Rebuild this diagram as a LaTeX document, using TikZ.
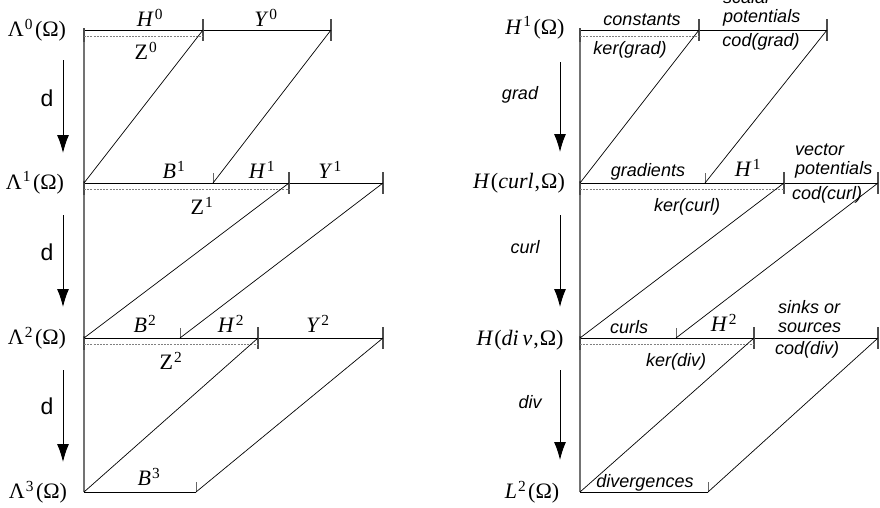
\documentclass[tikz,border=0pt]{standalone}
\usepackage{fontspec}
\setmainfont{Liberation Serif}
\setsansfont{Liberation Sans}
\usetikzlibrary{arrows.meta}
\newcommand\upidx[1]{\kern1pt\textsuperscript{#1}\kern2pt}
\tikzset{
  space/.style={inner sep=0pt,font=\fontsize{22}{24}\selectfont},
  part/.style={inner sep=0pt,font=\fontsize{22}{24}\selectfont},
  opname/.style={inner sep=0pt,font=\sffamily\fontsize{23}{26}\selectfont},
  lbl/.style={inner sep=0pt,font=\sffamily\itshape\fontsize{18}{19}\selectfont},
  axis/.style={draw=black!55,line width=1.4pt},
  level/.style={draw=black,line width=0.9pt},
  slant/.style={draw=black,line width=0.7pt},
  kerline/.style={draw=black!50,dash pattern=on 2pt off 1.2pt,line width=0.7pt},
  bigtick/.style={draw=black!70,line width=1.3pt},
  smalltick/.style={draw=black!60,line width=0.7pt},
  maparrow/.style={draw=black,line width=1pt,-{Latex[length=18pt,width=12pt]}},
}

\begin{document}
\begin{tikzpicture}[x=1pt,y=-1pt]
\useasboundingbox (0,0) rectangle (880,507);

% left: abstract complex
\coordinate (a0) at (84,30);
\coordinate (a0h) at (203,30);
\coordinate (a0e) at (331,30);
\coordinate (a1) at (84,183);
\coordinate (a1b) at (213,183);
\coordinate (a1h) at (289,183);
\coordinate (a1e) at (383,183);
\coordinate (a2) at (84,338);
\coordinate (a2b) at (180,338);
\coordinate (a2h) at (258,338);
\coordinate (a2e) at (383,338);
\coordinate (a3) at (84,492);
\coordinate (a3b) at (196,492);

% right: Sobolev spaces
\coordinate (b0) at (580,30);
\coordinate (b0h) at (699,30);
\coordinate (b0e) at (827,30);
\coordinate (b1) at (580,183);
\coordinate (b1b) at (705,183);
\coordinate (b1h) at (784,183);
\coordinate (b1e) at (878,183);
\coordinate (b2) at (580,338);
\coordinate (b2b) at (676,338);
\coordinate (b2h) at (754,338);
\coordinate (b2e) at (878,338);
\coordinate (b3) at (580,492);
\coordinate (b3b) at (708,492);

\draw[axis] (a0) -- (a3);
\draw[axis] (b0) -- (b3);

\foreach \s in {a,b}{
  \draw[level] (\s0) -- (\s0e);
  \draw[level] (\s1) -- (\s1e);
  \draw[level] (\s2) -- (\s2e);
  \draw[level] (\s3) -- (\s3b);
  \foreach \p in {\s0h,\s0e,\s1h,\s1e,\s2h,\s2e}
    \draw[bigtick] ([yshift=11pt]\p) -- ([yshift=-11pt]\p);
  \foreach \p in {\s1b,\s2b,\s3b}
    \draw[smalltick] (\p) -- ([yshift=10pt]\p);
  \foreach \p in {\s0,\s1,\s2}
    \draw[bigtick] ([yshift=2pt]\p) -- ([yshift=-12pt]\p);
  \draw[kerline] ([yshift=-6pt]\s0) -- ([yshift=-6pt]\s0h);
  \draw[kerline] ([yshift=-6pt]\s1) -- ([yshift=-6pt]\s1h);
  \draw[kerline] ([yshift=-6pt]\s2) -- ([yshift=-6pt]\s2h);
  \draw[slant] (\s0h) -- (\s1);
  \draw[slant] (\s0e) -- (\s1b);
  \draw[slant] (\s1h) -- (\s2);
  \draw[slant] (\s1e) -- (\s2b);
  \draw[slant] (\s2h) -- (\s3);
  \draw[slant] (\s2e) -- (\s3b);
}

% maps
\foreach \i/\ya/\yb in {0/60/153,1/215/307,2/370/462}{
  \coordinate (dtop\i) at (63,\ya);
  \coordinate (dbot\i) at (63,\yb);
  \draw[maparrow] (dtop\i) -- (dbot\i);
}
\foreach \i/\ya/\yb in {0/62/152,1/215/307,2/370/460}{
  \coordinate (vtop\i) at (560,\ya);
  \coordinate (vbot\i) at (560,\yb);
  \draw[maparrow] (vtop\i) -- (vbot\i);
}
\node[opname] (d0) at (47,98) {d};
\node[opname] (d1) at (47,252) {d};
\node[opname] (d2) at (47,406) {d};
\node[lbl] (grad) at (520,95) {grad};
\node[lbl] (curl) at (525,247) {curl};
\node[lbl] (div) at (530,402) {div};

% spaces
\node[space] (L0) at (37,30) {Λ\upidx{0}(Ω)};
\node[space] (L1) at (35,183) {Λ\upidx{1}(Ω)};
\node[space] (L2) at (37,338) {Λ\upidx{2}(Ω)};
\node[space] (L3) at (38,492) {Λ\upidx{3}(Ω)};
\node[space] (S0) at (535,28) {\textit{H}\upidx{1}(Ω)};
\node[space] (S1) at (519,183) {\textit{H}\kern1pt(\textit{curl}\kern1pt,\kern1ptΩ)};
\node[space] (S2) at (520,340) {\textit{H}\kern1pt(\textit{di\,v}\kern1pt,\kern1ptΩ)};
\node[space] (S3) at (532,492) {\textit{L}\upidx{2}(Ω)};

% left parts
\node[part] (H0) at (151,18) {\textit{H}\upidx{0}};
\node[part] (Y0) at (267,18) {\textit{Y}\upidx{0}};
\node[part] (Z0) at (147,51) {Z\upidx{0}};
\node[part] (B1) at (175,170) {\textit{B}\upidx{1}};
\node[part] (H1) at (263,170) {\textit{H}\upidx{1}};
\node[part] (Y1) at (331,170) {\textit{Y}\upidx{1}};
\node[part] (Z1) at (203,206) {Z\upidx{1}};
\node[part] (B2) at (146,324) {\textit{B}\upidx{2}};
\node[part] (H2) at (232,324) {\textit{H}\upidx{2}};
\node[part] (Y2) at (319,324) {\textit{Y}\upidx{2}};
\node[part] (Z2) at (172,361) {Z\upidx{2}};
\node[part] (B3) at (150,477) {\textit{B}\upidx{3}};

% right parts
\node[lbl] (const) at (642,20) {constants};
\node[lbl,anchor=west,align=left] (scal) at (723,8) {scalar\\potentials};
\node[lbl] (codgrad) at (761,42) {cod(grad)};
\node[lbl] (kergrad) at (630,50) {ker(grad)};
\node[lbl] (gradients) at (648,172) {gradients};
\node[part] (Hc) at (749,168) {\textit{H}\upidx{1}};
\node[lbl,anchor=west,align=left] (vect) at (795,161) {vector\\potentials};
\node[lbl] (codcurl) at (827,195) {cod(curl)};
\node[lbl] (kercurl) at (687,207) {ker(curl)};
\node[lbl] (curls) at (629,327) {curls};
\node[part] (Hd) at (725,323) {\textit{H}\upidx{2}};
\node[lbl,anchor=west,align=left] (sinks) at (778,317) {sinks or\\sources};
\node[lbl] (coddiv) at (807,350) {cod(div)};
\node[lbl] (kerdiv) at (676,362) {ker(div)};
\node[lbl] (diverg) at (645,483) {divergences};
\end{tikzpicture}
\end{document}
